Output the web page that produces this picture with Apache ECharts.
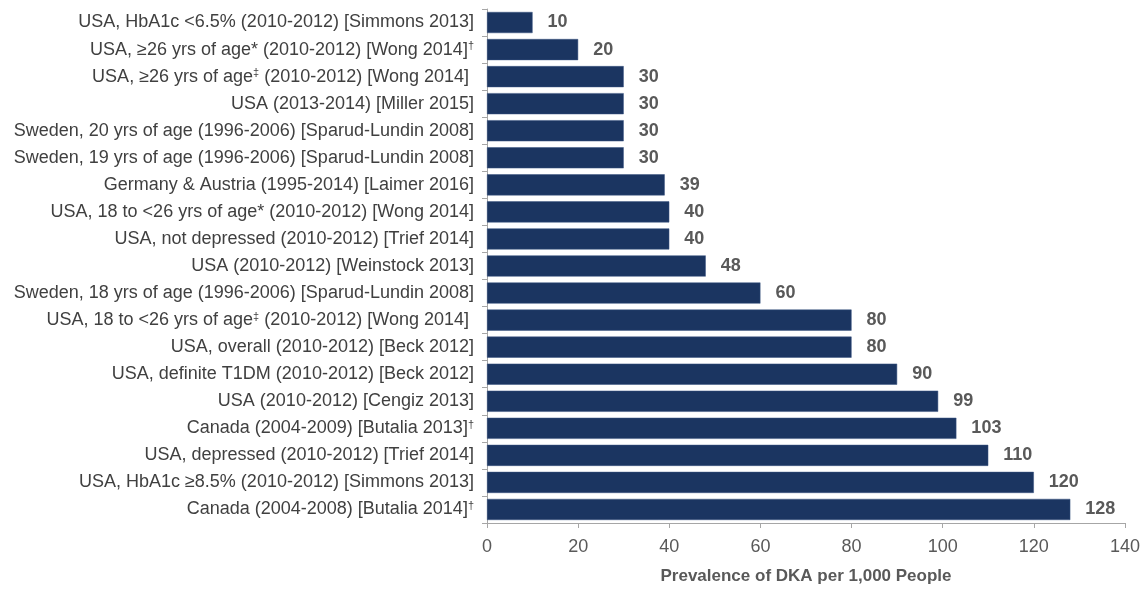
<!DOCTYPE html>
<html><head><meta charset="utf-8">
<script src="https://cdn.jsdelivr.net/npm/echarts@6/dist/echarts.min.js"></script>
<style>html,body{margin:0;padding:0;background:#fff}#c{width:1143px;height:590px}</style>
</head><body><div id="c"></div>
<script>
const categories = [
  "USA, HbA1c <6.5% (2010-2012) [Simmons 2013]",
  "USA, ≥26 yrs of age* (2010-2012) [Wong 2014]†",
  "USA, ≥26 yrs of age‡ (2010-2012) [Wong 2014] ",
  "USA (2013-2014) [Miller 2015]",
  "Sweden, 20 yrs of age (1996-2006) [Sparud-Lundin 2008]",
  "Sweden, 19 yrs of age (1996-2006) [Sparud-Lundin 2008]",
  "Germany & Austria (1995-2014) [Laimer 2016]",
  "USA, 18 to <26 yrs of age* (2010-2012) [Wong 2014]",
  "USA, not depressed (2010-2012) [Trief 2014]",
  "USA (2010-2012) [Weinstock 2013]",
  "Sweden, 18 yrs of age (1996-2006) [Sparud-Lundin 2008]",
  "USA, 18 to <26 yrs of age‡ (2010-2012) [Wong 2014] ",
  "USA, overall (2010-2012) [Beck 2012]",
  "USA, definite T1DM (2010-2012) [Beck 2012]",
  "USA (2010-2012) [Cengiz 2013]",
  "Canada (2004-2009) [Butalia 2013]†",
  "USA, depressed (2010-2012) [Trief 2014]",
  "USA, HbA1c ≥8.5% (2010-2012) [Simmons 2013]",
  "Canada (2004-2008) [Butalia 2014]†"
];
const prevalence = [10, 20, 30, 30, 30, 30, 39, 40, 40, 48, 60, 80, 80, 90, 99, 103, 110, 120, 128];
const xTicks = { min: 0, max: 140, interval: 20 };
const xAxisTitle = "Prevalence of DKA per 1,000 People";

const chart = echarts.init(document.getElementById('c'));
const font = "'Liberation Sans', Arial, sans-serif";
chart.setOption({
  animation: false,
  grid: { left: 487, right: 17, top: 9, bottom: 59, containLabel: false },
  xAxis: {
    type: 'value', min: xTicks.min, max: xTicks.max, interval: xTicks.interval,
    name: xAxisTitle, nameLocation: 'middle', nameGap: 45,
    nameTextStyle: { fontFamily: font, fontSize: 17, fontWeight: 'bold', color: '#595959' },
    axisLine: { show: true, lineStyle: { color: '#a6a6a6', width: 1 } },
    axisTick: { show: true, length: 5, lineStyle: { color: '#a6a6a6' } },
    axisLabel: { fontFamily: font, fontSize: 18, color: '#595959', margin: 15 },
    splitLine: { show: false }
  },
  yAxis: {
    type: 'category', data: categories, inverse: true,
    axisLine: { show: true, lineStyle: { color: '#a6a6a6', width: 1 } },
    axisTick: { show: true, length: 5, alignWithLabel: false, lineStyle: { color: '#a6a6a6' } },
    axisLabel: {
      fontFamily: font, fontSize: 18, color: '#404040', margin: 13,
      formatter: function (v) {
        return v.replace(/†/g, '{sup|†}').replace(/‡/g, '{sup|‡}');
      },
      rich: {
        sup: { fontFamily: font, fontSize: 11, color: '#404040', verticalAlign: 'top', padding: [0, 0, 7, 0] }
      }
    }
  },
  series: [{
    type: 'bar', data: prevalence, barCategoryGap: '22%',
    itemStyle: { color: '#1b3561', borderColor: '#3a5480', borderWidth: 0.5 },
    label: {
      show: true, position: 'right', distance: 15,
      fontFamily: font, fontSize: 18, fontWeight: 'bold', color: '#595959'
    }
  }]
});
</script></body></html>
